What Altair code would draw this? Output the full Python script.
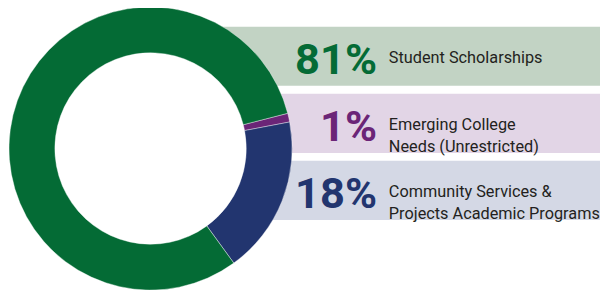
import altair as alt
import pandas as pd

categories = ["Emerging College Needs (Unrestricted)",
              "Community Services & Projects Academic Programs",
              "Student Scholarships"]
values = [1, 18, 81]
pct_labels = ["1%", "18%", "81%"]
desc_lines = [["Emerging College", "Needs (Unrestricted)"],
              ["Community Services &", "Projects Academic Programs"],
              ["Student Scholarships"]]
stack_order = [0, 1, 2]
band_order = ["Student Scholarships",
              "Emerging College Needs (Unrestricted)",
              "Community Services & Projects Academic Programs"]
slice_colors = ["#6B2577", "#22356F", "#046B35"]
band_colors = ["#E2D5E6", "#D4D8E5", "#C2D3C4"]

df = pd.DataFrame({
    "category": categories,
    "value": values,
    "pct": pct_labels,
    "desc": desc_lines,
    "ord": stack_order,
})

W, H = 600, 282
FONT = "Roboto, Liberation Sans, sans-serif"

color_scale = alt.Scale(domain=categories, range=slice_colors)
band_scale = alt.Scale(domain=categories, range=band_colors)
yscale = alt.Scale(domain=band_order, range=[17, 213], paddingInner=0.1176, paddingOuter=0)

base = alt.Chart(df)

band_enc = dict(
    y=alt.Y("category:N", scale=yscale, axis=None),
    x2=alt.value(W),
    fill=alt.Fill("category:N", scale=band_scale, legend=None),
)
bands_top = base.mark_rect().encode(x=alt.value(217), **band_enc).transform_filter(
    alt.datum.category == "Student Scholarships")
bands_rest = base.mark_rect().encode(x=alt.value(244), **band_enc).transform_filter(
    alt.datum.category != "Student Scholarships")

donut = base.mark_arc(outerRadius=143.5, innerRadius=97, stroke="#ffffff", strokeWidth=0.4).encode(
    theta=alt.Theta("value:Q", stack=True,
                    scale=alt.Scale(type="linear", range=[1.3195, 1.3195 + 6.28319])),
    order=alt.Order("ord:Q"),
    color=alt.Color("category:N", scale=color_scale, legend=None),
    x=alt.value(144.5), y=alt.value(140.5),
)

pct = base.mark_text(align="right", baseline="alphabetic", font=FONT, fontWeight="bold",
                     fontSize=44, dy=18).encode(
    y=alt.Y("category:N", scale=yscale, axis=None, bandPosition=0.5),
    x=alt.value(374),
    text="pct:N",
    color=alt.Color("category:N", scale=color_scale, legend=None),
)

desc = base.mark_text(align="left", baseline="middle", font=FONT, fontSize=16.5,
                      color="#231F20", lineHeight=22, dy=2).encode(
    y=alt.Y("category:N", scale=yscale, axis=None, bandPosition=0.5),
    x=alt.value(386),
    text="desc",
)

chart = alt.layer(bands_top, bands_rest, donut, pct, desc).resolve_scale(
    color="independent", fill="independent"
).properties(
    width=W, height=H,
    autosize=alt.AutoSizeParams(type="none"),
    padding=0,
).configure_view(stroke=None)

chart.save("out.html", embed_options={"renderer": "svg", "actions": False})
